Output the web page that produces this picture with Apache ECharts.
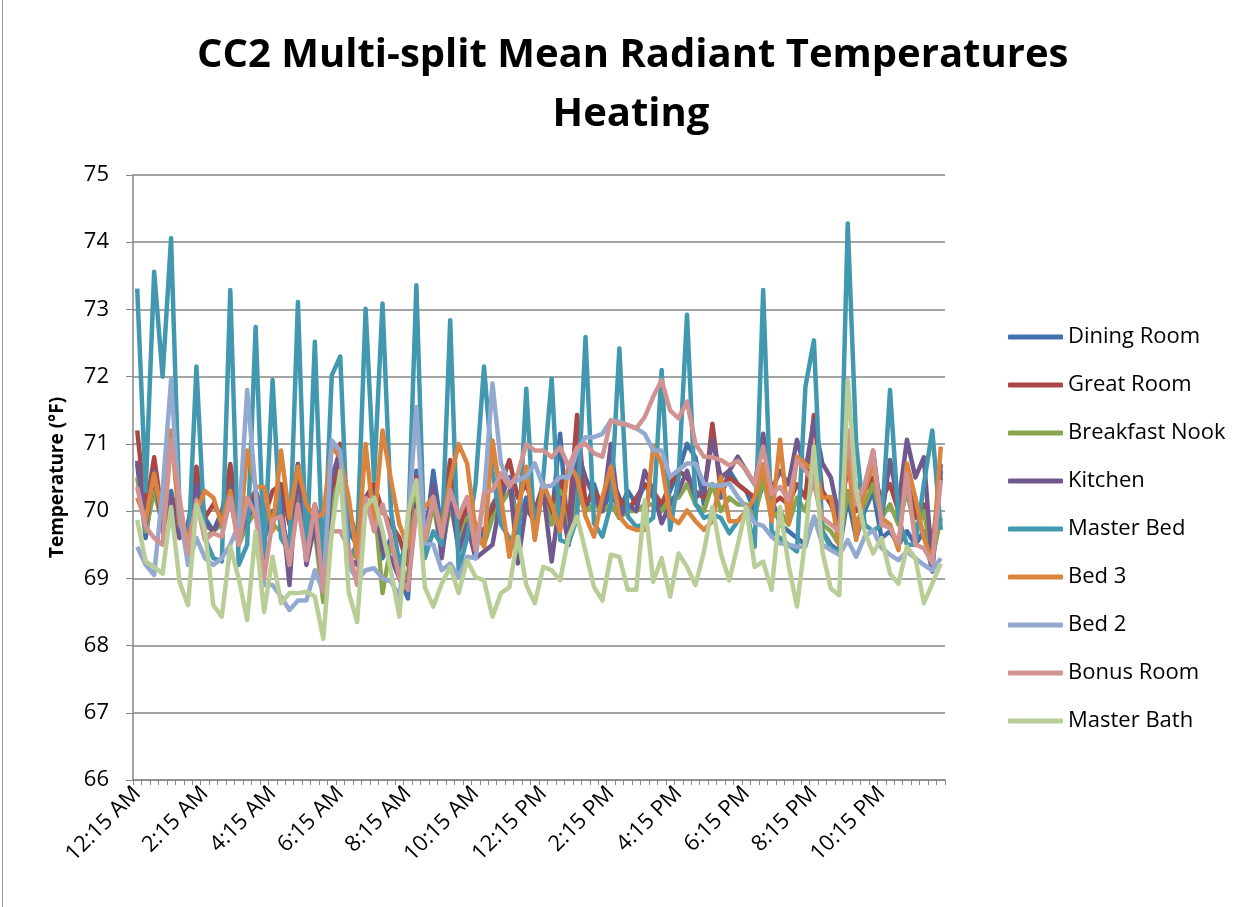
<!DOCTYPE html>
<html>
<head>
<meta charset="utf-8">
<title>CC2 Multi-split Mean Radiant Temperatures - Heating</title>
<script src="https://cdn.jsdelivr.net/npm/echarts@6/dist/echarts.min.js"></script>
<style>
    html, body { margin: 0; padding: 0; background: #fff; }
    #chart { width: 1253px; height: 907px; }
</style>
</head>
<body>
<div id="chart"></div>
<script>
    // 15 minute readings, 12:15 AM .. 12:00 AM
    var timeLabels = [];
    for (var m = 15; m <= 24 * 60; m += 15) {
        var h = Math.floor(m / 60) % 24, mm = m % 60;
        var h12 = h % 12 === 0 ? 12 : h % 12;
        timeLabels.push(h12 + ':' + (mm < 10 ? '0' + mm : mm) + ' ' + (h < 12 ? 'AM' : 'PM'));
    }

    var seriesNames = ['Dining Room', 'Great Room', 'Breakfast Nook', 'Kitchen', 'Master Bed', 'Bed 3', 'Bed 2', 'Bonus Room', 'Master Bath'];
    var seriesColors = ['#4170AA', '#AA4643', '#89A54E', '#71588F', '#4198AF', '#DB843D', '#93A9CF', '#D19392', '#B9CD96'];

    var diningRoom = [70.7,69.6,70.5,69.9,70.3,69.7,69.8,70.5,69.9,69.7,70.0,70.5,69.8,69.9,70.3,69.7,70.0,69.9,69.4,70.5,69.5,69.9,69.2,70.3,70.8,69.7,69.5,70.2,70.4,69.3,69.6,69.0,68.7,70.6,69.5,70.6,69.7,70.2,69.6,70.0,69.8,69.6,70.1,70.3,70.5,69.8,70.2,70.0,70.3,69.9,71.15,69.5,70.6,70.0,70.4,70.0,70.3,70.0,70.3,70.1,70.4,70.2,70.0,70.3,70.6,71.0,70.8,70.1,70.4,70.2,70.6,70.4,70.3,70.0,70.4,70.2,69.8,69.7,69.6,69.5,69.9,69.7,69.5,69.4,70.2,69.6,70.0,70.3,69.6,69.7,69.5,69.7,69.5,69.7,69.1,70.6];
    var greatRoom = [71.2,70.0,70.8,69.9,70.2,69.8,69.7,70.66,69.9,70.1,69.9,70.7,69.9,70.1,70.3,69.9,70.3,70.4,69.8,70.7,69.5,70.1,69.5,70.2,71.0,70.0,69.6,70.2,70.4,70.0,69.8,69.6,69.2,70.5,69.8,70.1,69.8,70.76,69.7,70.1,69.8,69.7,70.0,70.4,70.76,70.2,70.4,70.0,70.4,70.0,70.5,69.8,71.43,70.1,70.3,70.1,70.5,70.2,70.0,70.2,70.4,70.3,70.1,70.4,70.6,70.5,70.3,70.2,71.3,70.3,70.5,70.4,70.3,70.2,70.6,70.1,70.2,70.1,70.4,70.2,71.43,70.3,70.1,69.8,70.7,70.0,70.3,70.5,70.2,70.4,70.0,70.5,69.9,70.1,69.5,70.5];
    var breakfastNook = [70.5,69.7,70.3,69.8,70.1,69.6,69.7,70.3,69.6,69.7,69.8,70.2,69.5,69.8,70.0,69.7,69.8,69.7,69.3,70.4,69.4,69.7,68.65,70.1,70.5,69.4,69.3,70.0,70.2,68.78,69.5,69.2,69.0,70.3,69.5,70.1,69.4,70.1,69.5,69.9,69.6,69.5,69.9,70.1,70.3,69.9,70.0,69.9,70.2,69.8,70.3,69.6,70.3,70.0,70.1,70.0,70.1,69.9,70.0,70.0,70.1,70.1,70.0,70.2,70.2,70.4,70.1,70.0,70.4,70.0,70.2,70.1,70.1,69.9,70.5,69.9,70.0,69.8,70.2,70.0,70.5,69.8,69.7,69.5,70.3,69.8,70.1,70.4,69.9,70.1,69.8,70.3,69.7,70.0,69.3,69.9];
    var kitchen = [70.75,69.8,70.6,69.7,70.2,69.6,69.8,70.4,69.8,69.7,69.9,70.3,69.6,69.9,70.1,69.6,69.9,70.2,68.9,70.7,69.2,69.8,68.9,70.5,70.9,69.3,69.2,70.2,70.3,69.4,69.3,69.0,68.9,70.1,69.6,70.4,69.3,70.3,69.4,69.8,69.3,69.4,69.5,70.2,70.5,69.22,70.1,69.8,70.3,69.25,70.2,69.5,70.9,70.5,70.2,70.0,71.0,69.9,70.1,70.0,70.6,70.3,69.82,70.1,70.3,70.6,70.2,70.3,71.06,70.5,70.6,70.81,70.6,70.4,71.15,70.3,70.6,70.4,71.06,70.6,71.35,70.71,70.5,69.9,70.7,70.4,70.3,70.9,69.9,70.76,70.1,71.06,70.5,70.8,69.17,70.7];
    var masterBed = [73.31,70.3,73.56,72.0,74.06,70.0,69.3,72.15,69.6,69.3,69.25,73.29,69.2,69.5,72.74,69.3,71.95,69.6,69.4,73.11,69.3,72.52,69.0,72.02,72.3,69.3,69.5,73.01,70.46,73.09,70.0,69.2,69.6,73.36,69.3,69.7,69.5,72.84,69.12,69.6,70.4,72.15,70.6,69.8,69.6,69.4,71.82,69.6,70.5,71.97,69.57,69.52,69.9,72.59,69.82,69.62,70.1,72.42,69.92,69.77,69.8,69.9,72.1,69.72,70.5,72.92,70.11,69.9,69.95,69.9,69.67,69.85,70.0,69.47,73.29,69.7,69.6,69.5,69.4,71.85,72.54,69.7,69.45,69.37,74.28,71.0,69.8,69.7,69.8,71.8,69.9,69.5,69.5,70.4,71.2,69.72];
    var bed3 = [70.2,69.87,70.56,69.9,71.2,69.8,69.6,70.0,70.3,70.2,69.8,70.3,69.5,70.9,70.36,70.36,69.7,70.9,69.9,70.66,70.1,69.9,69.96,70.96,70.8,70.2,69.3,71.0,69.8,71.2,70.46,69.8,69.47,70.0,70.06,70.21,69.7,70.46,71.0,70.71,69.72,69.47,71.05,70.21,69.32,70.0,70.66,69.57,70.41,70.1,69.7,70.71,70.5,69.92,69.62,70.21,70.66,69.92,69.77,69.72,69.72,70.96,70.71,69.92,69.82,70.01,69.85,69.72,69.85,70.51,69.85,69.85,70.0,70.2,70.7,69.85,71.06,69.82,70.81,70.7,70.61,70.2,70.21,69.5,70.9,69.57,70.3,70.71,69.9,69.8,69.42,70.71,70.2,69.6,69.25,70.96];
    var bed2 = [69.47,69.2,69.05,70.3,71.95,70.0,69.2,69.6,69.3,69.2,69.3,69.5,69.8,71.8,70.3,68.9,68.9,68.73,68.53,68.67,68.67,69.12,68.8,71.05,70.9,69.2,68.97,69.12,69.15,69.0,68.95,68.73,69.8,71.55,69.52,69.5,69.12,69.22,69.02,69.32,69.3,70.21,71.9,70.71,70.41,70.46,70.51,70.71,70.36,70.38,70.51,70.5,70.9,71.1,71.1,71.15,71.35,71.33,71.28,71.23,71.15,70.9,70.9,70.51,70.61,70.71,70.71,70.41,70.38,70.38,70.41,70.21,70.06,69.82,69.78,69.62,69.52,69.5,69.47,69.47,69.92,69.5,69.42,69.35,69.57,69.32,69.62,69.72,69.45,69.35,69.27,69.4,69.3,69.2,69.12,69.3];
    var bonusRoom = [70.36,69.77,69.6,69.5,71.05,70.2,69.37,70.16,69.57,69.67,69.62,70.2,69.5,70.2,69.95,69.0,69.87,69.92,69.2,70.1,69.27,70.1,68.8,69.7,69.7,69.45,68.9,70.2,69.7,70.1,69.6,69.0,68.83,70.01,69.57,70.21,69.62,70.31,69.92,70.21,69.42,70.26,70.31,70.56,70.36,70.56,71.0,70.9,70.9,70.8,70.95,70.66,70.95,71.0,70.86,70.81,71.35,71.3,71.28,71.23,71.4,71.7,71.95,71.5,71.38,71.63,71.0,70.81,70.8,70.76,70.68,70.75,70.61,70.41,70.96,70.26,70.36,70.16,70.76,70.61,70.41,69.9,69.8,69.7,71.2,70.1,70.4,70.9,69.8,69.75,69.52,70.56,69.5,69.45,69.22,70.46];
    var masterBath = [69.87,69.25,69.17,69.07,70.06,68.95,68.6,70.1,69.72,68.6,68.43,69.47,69.0,68.38,69.7,68.5,69.32,68.63,68.78,68.78,68.8,68.73,68.1,69.7,70.6,68.8,68.35,70.06,70.2,69.7,69.1,68.43,69.96,70.46,68.87,68.58,68.92,69.17,68.78,69.27,69.02,68.97,68.43,68.78,68.87,69.62,68.9,68.63,69.17,69.12,68.97,69.62,69.92,69.4,68.87,68.67,69.35,69.32,68.83,68.83,70.16,68.95,69.3,68.73,69.37,69.17,68.9,69.4,70.06,69.37,68.97,69.5,70.06,69.17,69.25,68.83,70.06,69.2,68.58,69.6,70.96,69.4,68.85,68.75,71.95,70.3,69.7,69.37,69.6,69.07,68.92,69.47,69.3,68.63,68.92,69.22];

    var seriesValues = [diningRoom, greatRoom, breakfastNook, kitchen, masterBed, bed3, bed2, bonusRoom, masterBath];

    var axisGray = '#868686';
    var fontFamily = '"Open Sans", "Liberation Sans", sans-serif';

    var chart = echarts.init(document.getElementById('chart'));

    var option = {
        backgroundColor: '#fff',
        animation: false,
        color: seriesColors,
        textStyle: { fontFamily: fontFamily, color: '#000' },
        legend: {
            orient: 'vertical',
            left: 1003,
            top: 319,
            icon: 'roundRect',
            itemWidth: 55,
            itemHeight: 5,
            itemGap: 22,
            data: seriesNames,
            textStyle: { fontFamily: fontFamily, fontSize: 22, lineHeight: 26, color: '#000' }
        },
        grid: { left: 133, right: 308, top: 175, bottom: 127 },
        xAxis: {
            type: 'category',
            data: timeLabels,
            boundaryGap: true,
            axisLine: { lineStyle: { color: axisGray, width: 1.5 } },
            axisTick: { show: true, interval: 0, length: 5, lineStyle: { color: axisGray } },
            axisLabel: {
                interval: 7,
                rotate: 45,
                margin: 10,
                fontSize: 22,
                fontFamily: fontFamily,
                color: '#000'
            },
            splitLine: { show: false }
        },
        yAxis: {
            type: 'value',
            min: 66,
            max: 75,
            interval: 1,
            name: 'Temperature (°F)',
            nameLocation: 'middle',
            nameGap: 66,
            nameTextStyle: { fontFamily: fontFamily, fontSize: 19, fontWeight: 'bold', color: '#000' },
            axisLine: { show: true, lineStyle: { color: axisGray, width: 1.5 } },
            axisTick: { show: true, length: 7, lineStyle: { color: axisGray } },
            axisLabel: { fontSize: 22, margin: 24, fontFamily: fontFamily, color: '#000' },
            splitLine: { lineStyle: { color: axisGray, width: 1.5 } }
        },
        graphic: [{
            type: 'text',
            left: 631 - 434, top: 36,
            style: {
                text: 'CC2 Multi-split Mean Radiant Temperatures',
                font: 'bold 40px ' + fontFamily,
                fill: '#000'
            }
        }, {
            type: 'text',
            x: 631, y: 115,
            style: {
                text: 'Heating',
                font: 'bold 40px ' + fontFamily,
                fill: '#000',
                align: 'center',
                verticalAlign: 'middle'
            }
        }, {
            type: 'line',
            shape: { x1: 2.5, y1: 0, x2: 2.5, y2: 907 },
            style: { stroke: '#9a9a9a', lineWidth: 1 }
        }],
        series: seriesNames.map(function (name, i) {
            return {
                name: name,
                type: 'line',
                data: seriesValues[i],
                symbol: 'none',
                lineStyle: { width: 4.5, color: seriesColors[i], join: 'round' },
                itemStyle: { color: seriesColors[i] }
            };
        })
    };

    chart.setOption(option);
</script>
</body>
</html>
